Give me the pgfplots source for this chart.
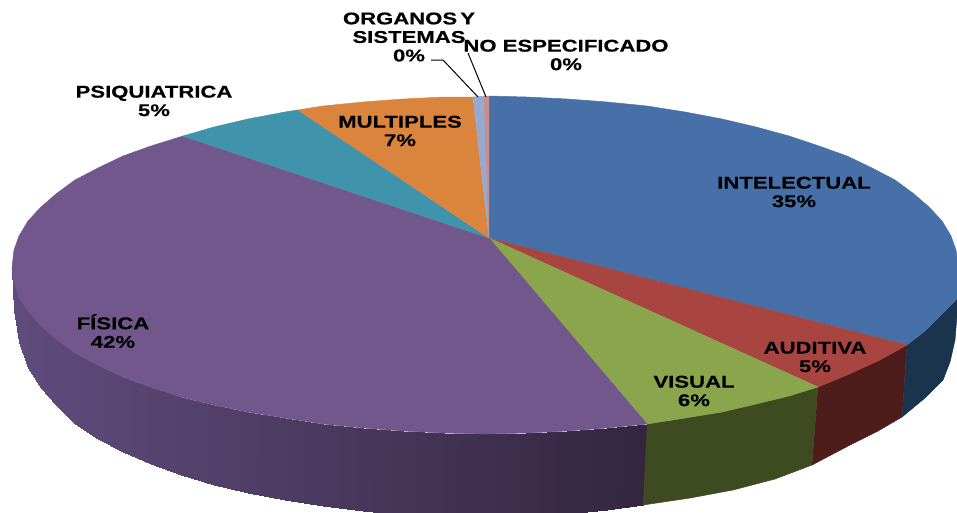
\documentclass[border=0pt]{standalone}
\usepackage{fontspec}
\setmainfont{Liberation Sans}[FakeStretch=1.3,BoldFeatures={FakeStretch=1.3,FakeBold=0.4}]
\usepackage{pgfplots}
\pgfplotsset{compat=1.18}
\definecolor{cblue}{HTML}{4670A7}
\definecolor{cred}{HTML}{A84540}
\definecolor{cgreen}{HTML}{8BA54C}
\definecolor{cpurple}{HTML}{72578D}
\definecolor{cteal}{HTML}{3F93AB}
\definecolor{corange}{HTML}{DB843D}
\definecolor{clight}{HTML}{96A9D1}
\definecolor{cpink}{HTML}{C68E8C}
\definecolor{wblue}{HTML}{1A344E}
\definecolor{wred}{HTML}{4E1C1A}
\definecolor{wgreen}{HTML}{3E4A20}
\definecolor{wL}{HTML}{614D7E}
\definecolor{wR}{HTML}{33263F}
\newcommand{\lab}[3]{\node[align=center,font=\fontsize{17}{18.5}\bfseries\selectfont,inner sep=0pt] at (axis cs:#1,#2) {#3};}

\begin{document}
\begin{tikzpicture}
\path[use as bounding box] (0,0) rectangle (957pt,512pt);
\begin{axis}[
    at={(0,0)}, anchor=south west,
    scale only axis, width=957pt, height=512pt,
    xmin=0, xmax=957, ymin=0, ymax=512,
    y dir=reverse, hide axis, clip=true,
    colormap={wall}{color=(wL) color=(wR)},
    band/.style={fill=#1, draw=#1, line width=0.5pt},
]
% side wall, purple slice: rim row, then bottom row
\addplot[surf, shader=interp, mesh/rows=2, point meta=explicit]
  table[meta=c] {
x y c
12 268 0
14 283 14
19 297 19
28 311 28
41 326 41
56 339 56
75 353 75
98 365 98
123 377 123
151 387 151
181 397 181
214 405 214
248 412 248
285 418 285
323 424 323
363 428 363
403 431 403
444 433 444
485 434 485
526 433 526
567 431 567
607 428 607
647 424 647
12 270 0
14 310 14
19 342 19
28 368 28
41 388 41
56 405 56
75 424 75
98 439 98
123 452 123
151 464 151
181 475 181
214 485 214
248 493 248
285 500 285
323 506 323
363 511 363
403 515 403
444 517 444
485 518 485
526 517 526
567 514 567
607 510 607
643 505 647
};
% side wall, other slices
\addplot[band=wgreen] coordinates {(647,424) (685,418) (722,412) (756,404) (789,396) (818,387) (812,465) (775,479) (733,490) (690,498) (643,505)};
\addplot[band=wred] coordinates {(818,387) (847,375) (880,360) (907,345) (902,417) (878,431) (850,445) (812,465)};
\addplot[band=wblue] coordinates {(907,345) (925,331) (942,314) (958,298) (958,303) (955,340) (950,362) (943,380) (925,398) (902,417)};
% top surface
\addplot[band=cblue] coordinates {(489,238) (489,96) (526,97) (567,99) (607,102) (647,106) (685,112) (722,119) (756,127) (789,136) (819,146) (847,156) (872,168) (895,180) (914,194) (929,207) (942,221) (951,236) (956,250) (958,265) (958,298) (942,314) (925,331) (907,345)};
\addplot[band=cred] coordinates {(489,238) (907,345) (880,360) (847,375) (818,387)};
\addplot[band=cgreen] coordinates {(489,238) (818,387) (789,396) (756,404) (722,412) (685,418) (647,424)};
\addplot[band=cpurple] coordinates {(489,238) (647,424) (607,428) (567,431) (526,433) (485,434) (444,433) (403,431) (363,428) (323,424) (285,418) (248,412) (214,405) (181,397) (151,387) (123,377) (98,365) (75,353) (56,339) (41,326) (28,311) (19,297) (14,283) (12,268) (14,250) (19,236) (28,221) (41,207) (56,194) (75,180) (98,168) (123,156) (151,146) (183,136)};
\addplot[band=cteal] coordinates {(489,238) (183,136) (214,127) (248,119) (285,112) (298,110)};
\addplot[band=corange] coordinates {(489,238) (298,110) (323,106) (363,102) (403,99) (444,97) (473,97)};
\addplot[band=clight] coordinates {(489,238) (473,97) (485,96)};
\addplot[band=cpink] coordinates {(489,238) (484,96) (489,96)};
% leader lines
\addplot[black, line width=1pt] coordinates {(431,60) (443,60) (478,97)};
\addplot[black, line width=1pt] coordinates {(468,53) (486,97)};
% labels
\lab{794}{192}{INTELECTUAL\\35\%}
\lab{815}{357}{AUDITIVA\\5\%}
\lab{694}{391}{VISUAL\\6\%}
\lab{113}{331}{FÍSICA\\42\%}
\lab{400}{131}{MULTIPLES\\7\%}
\lab{154}{101}{PSIQUIATRICA\\5\%}
\lab{409}{37}{ORGANOS\hspace{-3pt} Y\\SISTEMAS\\0\%}
\lab{566}{55}{NO ESPECIFICADO\\0\%}
\end{axis}
\end{tikzpicture}
\end{document}
